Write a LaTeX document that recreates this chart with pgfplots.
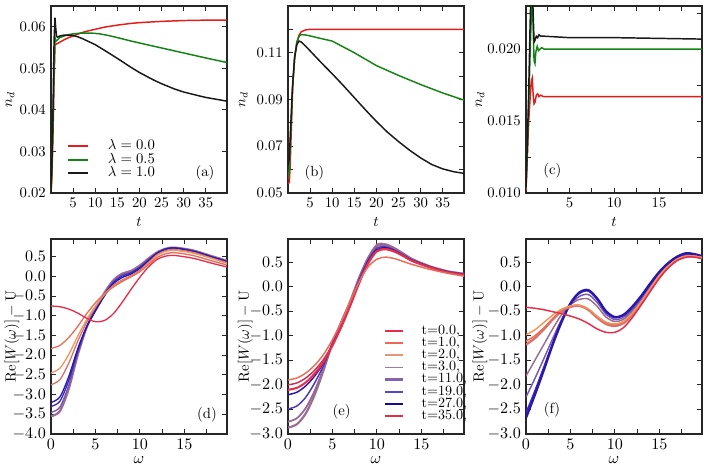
\documentclass[border=0pt]{standalone}
\usepackage{pgfplots}
\pgfplotsset{compat=1.18}
\newlength{\px}\setlength{\px}{0.68pt}
\definecolor{mred}{RGB}{228,28,28}
\definecolor{mgreen}{RGB}{20,130,20}
\definecolor{mblack}{RGB}{25,25,25}
\definecolor{L0}{RGB}{232,45,75}
\definecolor{L1}{RGB}{236,105,85}
\definecolor{L2}{RGB}{228,150,120}
\definecolor{L3}{RGB}{165,120,150}
\definecolor{L4}{RGB}{130,100,175}
\definecolor{L5}{RGB}{85,70,200}
\definecolor{L6}{RGB}{20,10,160}
\definecolor{L7}{RGB}{232,45,75}
\definecolor{cOr}{RGB}{240,150,95}
\definecolor{cSal}{RGB}{230,110,90}
\definecolor{cSal2}{RGB}{215,115,110}
\definecolor{cMau}{RGB}{155,110,145}
\definecolor{cPur}{RGB}{120,85,175}
\definecolor{cBlu}{RGB}{60,40,195}
\definecolor{cDBl}{RGB}{40,25,170}
\definecolor{cDRed}{RGB}{200,50,85}
\pgfplotsset{
  base/.style={
    scale only axis, width=176\px,
    axis line style={line width=0.8pt, black!85},
    tick align=inside,
    major tick length=3.5pt, minor tick length=3.5pt,
    every tick/.style={black!85, line width=0.6pt},
    scaled ticks=false,
    clip=true,
  },
  toprow/.style={base, height=187\px, xlabel={$t$}, ylabel={$n_d$},
    tick label style={font=\fontsize{10}{12}\selectfont},
    label style={font=\fontsize{10}{12}\selectfont},
    xlabel shift=0pt,
  },
  botrow/.style={base, height=195\px, xlabel={$\omega$}, ylabel={$\mathrm{Re}[W(\omega)]-\mathrm{U}$},
    tick label style={font=\fontsize{11}{13}\selectfont},
    ylabel style={font=\fontsize{13}{15}\selectfont},
    xlabel style={font=\fontsize{11}{13}\selectfont},
    xlabel shift=-2pt,
    xmin=0, xmax=19.8, xtick={0,5,10,15}, minor xtick={2.5,7.5,12.5,17.5},
    yticklabel style={/pgf/number format/.cd, fixed, fixed zerofill, precision=1}},
  ylab/.style={every axis y label/.style={at={(axis description cs:#1,0.5)}, rotate=90, anchor=center, inner sep=0pt}},
}
\begin{document}
\fontsize{10}{12}\selectfont
\begin{tikzpicture}
% ---------------- (a)
\begin{axis}[toprow, ylab=-0.233, at={(51\px,-193\px)}, anchor=south west,
  xmin=0, xmax=39.8, ymin=0.02, ymax=0.065,
  xtick={5,10,15,20,25,30,35}, ytick={0.02,0.03,0.04,0.05,0.06},
  yticklabel style={/pgf/number format/.cd, fixed, fixed zerofill, precision=2},
  legend style={draw=none, fill=none, inner sep=0pt, at={(0.088,0.29)}, anchor=north west,
    font=\fontsize{10}{12}\selectfont, row sep=0pt,
    nodes={inner sep=0pt, text height=7pt, text depth=2.3pt},
    /tikz/every odd column/.append style={column sep=13pt}},
  legend image code/.code={\draw[#1, line width=1.4pt] (0pt,0pt) -- (13.6pt,0pt);},
  legend cell align=left]
\addplot[mred, line width=1pt] coordinates {(0,0.0200)(0.2,0.024)(0.45,0.034)(0.7,0.047)(0.9,0.0555)(1.1,0.0558)(1.5,0.0560)(2,0.0563)(3,0.0569)(4,0.0574)(5,0.0578)(6,0.0582)(7,0.0586)(8,0.0589)(10,0.0594)(12,0.0599)(15,0.0604)(18,0.0608)(20,0.0610)(25,0.0613)(30,0.0615)(35,0.0616)(39.8,0.0616)};
\addplot[mgreen, line width=1pt] coordinates {(0,0.020)(0.2,0.025)(0.45,0.036)(0.7,0.050)(0.9,0.0575)(1.1,0.0565)(1.4,0.0568)(2,0.0574)(3,0.0578)(4,0.0581)(5,0.0583)(7,0.0585)(9,0.0585)(11,0.0583)(13,0.0579)(15,0.0574)(18,0.0566)(20,0.0561)(25,0.0549)(30,0.0537)(35,0.0525)(39.8,0.0514)};
\addplot[mblack, line width=1pt] coordinates {(0,0.020)(0.2,0.027)(0.45,0.040)(0.7,0.057)(0.9,0.0622)(1.05,0.0600)(1.25,0.0577)(1.5,0.0575)(2,0.0578)(3,0.0580)(4,0.0580)(5,0.0579)(6,0.0576)(7,0.0572)(8,0.0567)(10,0.0557)(12,0.0544)(15,0.0524)(18,0.0503)(20,0.0490)(23,0.0473)(25,0.0463)(28,0.0450)(30,0.0443)(33,0.0435)(35,0.0430)(39.8,0.0421)};
\legend{$\lambda=0.0$,$\lambda=0.5$,$\lambda=1.0$}
\node at (rel axis cs:0.875,0.107) {(a)};
\end{axis}
% ---------------- (b)
\begin{axis}[toprow, ylab=-0.254, at={(288\px,-193\px)}, anchor=south west,
  xmin=0, xmax=39.8, ymin=0.05, ymax=0.13,
  xtick={5,10,15,20,25,30,35}, ytick={0.05,0.07,0.09,0.11}, minor ytick={0.06,0.08,0.10,0.12},
  yticklabel style={/pgf/number format/.cd, fixed, fixed zerofill, precision=2}]
\addplot[mred, line width=1pt] coordinates {(0,0.054)(0.3,0.0545)(0.5,0.062)(0.8,0.080)(1.1,0.097)(1.5,0.108)(2,0.1145)(2.5,0.1175)(3,0.119)(4,0.1198)(5,0.1200)(39.8,0.1200)};
\addplot[mgreen, line width=1pt] coordinates {(0,0.056)(0.3,0.060)(0.6,0.075)(1,0.094)(1.5,0.108)(2,0.1145)(2.5,0.117)(3,0.1178)(4,0.1176)(5,0.1172)(7,0.1163)(10,0.1150)(15,0.1100)(20,0.1045)(25,0.1003)(30,0.0964)(35,0.0928)(39.8,0.0897)};
\addplot[mblack, line width=1pt] coordinates {(0,0.062)(0.3,0.065)(0.6,0.078)(1,0.095)(1.5,0.108)(2,0.1135)(2.5,0.1150)(3,0.1146)(4,0.1128)(5,0.1108)(6,0.1088)(7.5,0.1058)(10,0.1010)(12.5,0.0960)(15,0.0908)(17.5,0.0856)(20,0.0806)(22.5,0.0760)(25,0.0720)(27.5,0.0683)(30,0.0650)(32.5,0.0622)(35,0.0603)(37.5,0.0591)(39.8,0.0584)};
\node at (rel axis cs:0.15,0.107) {(b)};
\end{axis}
% ---------------- (c)
\begin{axis}[toprow, ylab=-0.261, at={(526\px,-193\px)}, anchor=south west,
  xmin=0.15, xmax=19.8, ymin=0.010, ymax=0.023,
  xtick={5,10,15}, minor xtick={2.5,7.5,12.5,17.5},
  ytick={0.010,0.015,0.020}, minor ytick={0.0125,0.0175,0.0225},
  yticklabel style={/pgf/number format/.cd, fixed, fixed zerofill, precision=3}]
\addplot[mred, line width=1pt] coordinates {(0.15,0.0102)(0.3,0.0125)(0.45,0.0150)(0.6,0.0165)(0.75,0.0178)(0.85,0.0180)(0.95,0.0168)(1.05,0.0162)(1.15,0.0163)(1.3,0.0168)(1.45,0.0169)(1.6,0.0167)(1.8,0.0168)(2.1,0.0167)(3,0.0167)(19.8,0.0167)};
\addplot[mgreen, line width=1pt] coordinates {(0.15,0.0103)(0.3,0.0130)(0.45,0.0160)(0.6,0.0195)(0.75,0.0225)(0.85,0.0235)(0.95,0.0215)(1.05,0.0192)(1.15,0.0190)(1.25,0.0198)(1.4,0.0202)(1.55,0.0199)(1.7,0.0200)(1.9,0.0201)(2.2,0.0200)(3,0.0200)(19.8,0.0200)};
\addplot[mblack, line width=1pt] coordinates {(0.15,0.0104)(0.3,0.0135)(0.45,0.0170)(0.6,0.0215)(0.7,0.0240)(0.85,0.0245)(0.95,0.0225)(1.05,0.0205)(1.15,0.0206)(1.3,0.0209)(1.45,0.0208)(1.6,0.0210)(1.8,0.0209)(2.2,0.0209)(5,0.0208)(10,0.0208)(19.8,0.0207)};
\node at (rel axis cs:0.15,0.12) {(c)};
\end{axis}
% ---------------- (d)
\begin{axis}[botrow, ylab=-0.222, at={(51\px,-434\px)}, anchor=south west,
  ymin=-4.0, ymax=0.95, ytick={-4,-3.5,-3,-2.5,-2,-1.5,-1,-0.5,0,0.5}]
\addplot[cMau, line width=1.5pt, smooth] coordinates {(0,-3.55)(1,-3.42)(2,-2.85)(3,-2.0)(4,-1.3)(5,-0.82)(6,-0.42)(7,-0.1)(8,0.07)(9,0.14)(10,0.28)(11,0.46)(12,0.62)(13,0.71)(14,0.73)(16,0.66)(18,0.52)(19.8,0.40)};
\addplot[cPur, line width=0.9pt, smooth] coordinates {(0,-3.45)(1,-3.32)(2,-2.76)(3,-1.96)(4,-1.3)(5,-0.84)(6,-0.45)(7,-0.13)(8,0.04)(9,0.11)(10,0.25)(11,0.44)(12,0.61)(13,0.7)(14,0.72)(16,0.65)(18,0.51)(19.8,0.39)};
\addplot[cBlu, line width=0.9pt, smooth] coordinates {(0,-3.3)(1,-3.17)(2,-2.64)(3,-1.9)(4,-1.29)(5,-0.86)(6,-0.48)(7,-0.16)(8,0.01)(9,0.09)(10,0.23)(11,0.42)(12,0.6)(13,0.7)(14,0.72)(16,0.64)(18,0.5)(19.8,0.38)};
\addplot[cDBl, line width=0.9pt, smooth] coordinates {(0,-3.2)(1,-3.06)(2,-2.54)(3,-1.84)(4,-1.28)(5,-0.88)(6,-0.5)(7,-0.19)(8,-0.03)(9,0.06)(10,0.2)(11,0.4)(12,0.59)(13,0.7)(14,0.72)(16,0.64)(18,0.5)(19.8,0.37)};
\addplot[cSal2, line width=0.9pt, smooth] coordinates {(0,-2.75)(1,-2.62)(2,-2.2)(3,-1.65)(4,-1.17)(5,-0.78)(6,-0.46)(7,-0.23)(8,-0.09)(9,0.02)(10,0.16)(11,0.36)(12,0.56)(13,0.66)(14,0.68)(16,0.61)(18,0.47)(19.8,0.35)};
\addplot[cOr, line width=0.9pt, smooth] coordinates {(0,-2.45)(1,-2.33)(2,-1.98)(3,-1.52)(4,-1.1)(5,-0.75)(6,-0.46)(7,-0.26)(8,-0.12)(9,0.0)(10,0.13)(11,0.34)(12,0.54)(13,0.64)(14,0.66)(16,0.59)(18,0.46)(19.8,0.33)};
\addplot[cSal, line width=0.9pt, smooth] coordinates {(0,-1.83)(1,-1.75)(2,-1.55)(3,-1.27)(4,-0.95)(5,-0.67)(6,-0.44)(7,-0.27)(8,-0.13)(9,-0.01)(10,0.12)(11,0.31)(12,0.49)(13,0.58)(14,0.6)(16,0.53)(18,0.4)(19.8,0.29)};
\addplot[L0, line width=0.9pt, smooth] coordinates {(0,-0.75)(1,-0.77)(2,-0.83)(3,-0.93)(4,-1.06)(5,-1.15)(6,-1.12)(7,-0.95)(8,-0.66)(9,-0.33)(10,-0.02)(11,0.25)(12,0.44)(13,0.52)(14,0.53)(16,0.46)(18,0.34)(19.8,0.24)};
\node at (rel axis cs:0.886,0.10) {(d)};
\end{axis}
% ---------------- (e)
\begin{axis}[botrow, ylab=-0.243, at={(288\px,-434\px)}, anchor=south west,
  ymin=-3.0, ymax=0.97, ytick={-3,-2.5,-2,-1.5,-1,-0.5,0,0.5},
  legend style={draw=none, fill=none, inner sep=0pt, at={(0.545,0.559)}, anchor=north west,
    font=\fontsize{9.6}{10}\selectfont, row sep=0.4pt,
    nodes={inner sep=0pt, text height=6.2pt, text depth=1.65pt},
    /tikz/every odd column/.append style={column sep=11.5pt}},
  legend image code/.code={\draw[#1] (0pt,0pt) -- (12.2pt,0pt);},
  legend cell align=left]
\addlegendimage{L0, line width=1.2pt}\addlegendentry{t=0.0,}
\addlegendimage{L1, line width=1.2pt}\addlegendentry{t=1.0,}
\addlegendimage{L2, line width=1.2pt}\addlegendentry{t=2.0,}
\addlegendimage{L3, line width=1.2pt}\addlegendentry{t=3.0,}
\addlegendimage{L4, line width=1.5pt}\addlegendentry{t=11.0,}
\addlegendimage{L5, line width=1.2pt}\addlegendentry{t=19.0,}
\addlegendimage{L6, line width=1.2pt}\addlegendentry{t=27.0,}
\addlegendimage{L7, line width=1.7pt}\addlegendentry{t=35.0,}
\addplot[cMau, line width=1.5pt, smooth, forget plot] coordinates {(0,-2.87)(1,-2.8)(2,-2.58)(3,-2.2)(4,-1.7)(5,-1.15)(6,-0.72)(7,-0.3)(8,0.18)(9,0.58)(10,0.85)(11,0.86)(12,0.78)(13,0.67)(14,0.56)(16,0.41)(18,0.31)(19.9,0.26)};
\addplot[cMau!80!cPur, line width=1.2pt, smooth, forget plot] coordinates {(0,-2.75)(1,-2.68)(2,-2.47)(3,-2.12)(4,-1.66)(5,-1.14)(6,-0.72)(7,-0.31)(8,0.16)(9,0.56)(10,0.82)(11,0.84)(12,0.77)(13,0.66)(14,0.55)(16,0.41)(18,0.31)(19.9,0.26)};
\addplot[cBlu!70!cPur, line width=1pt, smooth, forget plot] coordinates {(0,-2.49)(1,-2.43)(2,-2.25)(3,-1.96)(4,-1.6)(5,-1.16)(6,-0.75)(7,-0.33)(8,0.14)(9,0.53)(10,0.78)(11,0.81)(12,0.74)(13,0.64)(14,0.54)(16,0.4)(18,0.3)(19.9,0.25)};
\addplot[cDBl, line width=1pt, smooth, forget plot] coordinates {(0,-2.2)(1,-2.15)(2,-2.02)(3,-1.82)(4,-1.55)(5,-1.18)(6,-0.79)(7,-0.36)(8,0.1)(9,0.5)(10,0.75)(11,0.79)(12,0.73)(13,0.63)(14,0.53)(16,0.4)(18,0.3)(19.9,0.25)};
\addplot[cDRed, line width=1pt, smooth, forget plot] coordinates {(0,-2.0)(1,-1.96)(2,-1.86)(3,-1.7)(4,-1.48)(5,-1.18)(6,-0.8)(7,-0.38)(8,0.08)(9,0.48)(10,0.73)(11,0.77)(12,0.72)(13,0.62)(14,0.52)(16,0.39)(18,0.29)(19.9,0.24)};
\addplot[L0, line width=1.4pt, smooth, forget plot] coordinates {(0,-2.1)(1,-2.06)(2,-1.95)(3,-1.77)(4,-1.53)(5,-1.2)(6,-0.82)(7,-0.39)(8,0.07)(9,0.47)(10,0.72)(11,0.76)(12,0.71)(13,0.62)(14,0.52)(16,0.39)(18,0.29)(19.9,0.24)};
\addplot[cSal, line width=1pt, smooth, forget plot] coordinates {(0,-1.9)(1,-1.86)(2,-1.76)(3,-1.6)(4,-1.38)(5,-1.08)(6,-0.72)(7,-0.3)(8,0.1)(9,0.4)(10,0.56)(11,0.6)(12,0.57)(13,0.51)(14,0.45)(16,0.35)(18,0.27)(19.9,0.21)};
\node at (rel axis cs:0.305,0.113) {(e)};
\end{axis}
% ---------------- (f)
\begin{axis}[botrow, ylab=-0.261, at={(526\px,-434\px)}, anchor=south west,
  ymin=-3.0, ymax=0.97, ytick={-3,-2.5,-2,-1.5,-1,-0.5,0,0.5}]
\addplot[cMau, line width=1pt, smooth] coordinates {(0,-1.82)(1,-1.5)(2,-1.18)(3,-0.86)(4,-0.57)(5,-0.37)(6,-0.26)(7,-0.25)(8,-0.4)(9,-0.62)(10,-0.71)(11,-0.66)(12,-0.49)(13,-0.26)(14,0.0)(15,0.25)(16,0.45)(17,0.58)(18,0.64)(19,0.63)(19.8,0.59)};
\addplot[cPur, line width=1pt, smooth] coordinates {(0,-2.25)(1,-1.87)(2,-1.47)(3,-1.06)(4,-0.67)(5,-0.37)(6,-0.2)(7,-0.16)(8,-0.32)(9,-0.56)(10,-0.67)(11,-0.62)(12,-0.46)(13,-0.23)(14,0.03)(15,0.27)(16,0.46)(17,0.59)(18,0.66)(19,0.64)(19.8,0.6)};
\addplot[cBlu, line width=1pt, smooth] coordinates {(0,-2.57)(1,-2.12)(2,-1.64)(3,-1.15)(4,-0.7)(5,-0.35)(6,-0.14)(7,-0.09)(8,-0.26)(9,-0.52)(10,-0.63)(11,-0.58)(12,-0.42)(13,-0.2)(14,0.05)(15,0.29)(16,0.47)(17,0.6)(18,0.67)(19,0.65)(19.8,0.61)};
\addplot[cDBl, line width=1.6pt, smooth] coordinates {(0,-2.67)(1,-2.2)(2,-1.7)(3,-1.18)(4,-0.72)(5,-0.34)(6,-0.12)(7,-0.07)(8,-0.24)(9,-0.5)(10,-0.62)(11,-0.57)(12,-0.4)(13,-0.18)(14,0.07)(15,0.3)(16,0.48)(17,0.61)(18,0.68)(19,0.66)(19.8,0.62)};
\addplot[cSal2, line width=1.6pt, smooth] coordinates {(0,-1.18)(1,-1.05)(2,-0.87)(3,-0.67)(4,-0.5)(5,-0.41)(6,-0.39)(7,-0.47)(8,-0.63)(9,-0.76)(10,-0.8)(11,-0.74)(12,-0.57)(13,-0.34)(14,-0.07)(15,0.19)(16,0.4)(17,0.54)(18,0.61)(19,0.61)(19.8,0.58)};
\addplot[cSal, line width=1pt, smooth] coordinates {(0,-1.11)(1,-1.0)(2,-0.84)(3,-0.65)(4,-0.49)(5,-0.4)(6,-0.38)(7,-0.46)(8,-0.61)(9,-0.74)(10,-0.78)(11,-0.72)(12,-0.55)(13,-0.32)(14,-0.05)(15,0.21)(16,0.41)(17,0.55)(18,0.62)(19,0.62)(19.8,0.59)};
\addplot[cOr, line width=1pt, smooth] coordinates {(0,-0.98)(1,-0.88)(2,-0.73)(3,-0.58)(4,-0.46)(5,-0.39)(6,-0.38)(7,-0.45)(8,-0.6)(9,-0.72)(10,-0.76)(11,-0.7)(12,-0.53)(13,-0.3)(14,-0.03)(15,0.23)(16,0.42)(17,0.56)(18,0.62)(19,0.62)(19.8,0.59)};
\addplot[L0, line width=1pt, smooth] coordinates {(0,-0.42)(1,-0.44)(2,-0.47)(3,-0.51)(4,-0.55)(5,-0.6)(6,-0.66)(7,-0.75)(8,-0.86)(9,-0.93)(10,-0.93)(11,-0.83)(12,-0.62)(13,-0.36)(14,-0.09)(15,0.17)(16,0.38)(17,0.53)(18,0.6)(19,0.6)(19.8,0.57)};
\node at (rel axis cs:0.148,0.123) {(f)};
\end{axis}
\pgfresetboundingbox
\useasboundingbox (0,0) rectangle (704\px,-467\px);
\end{tikzpicture}
\end{document}
